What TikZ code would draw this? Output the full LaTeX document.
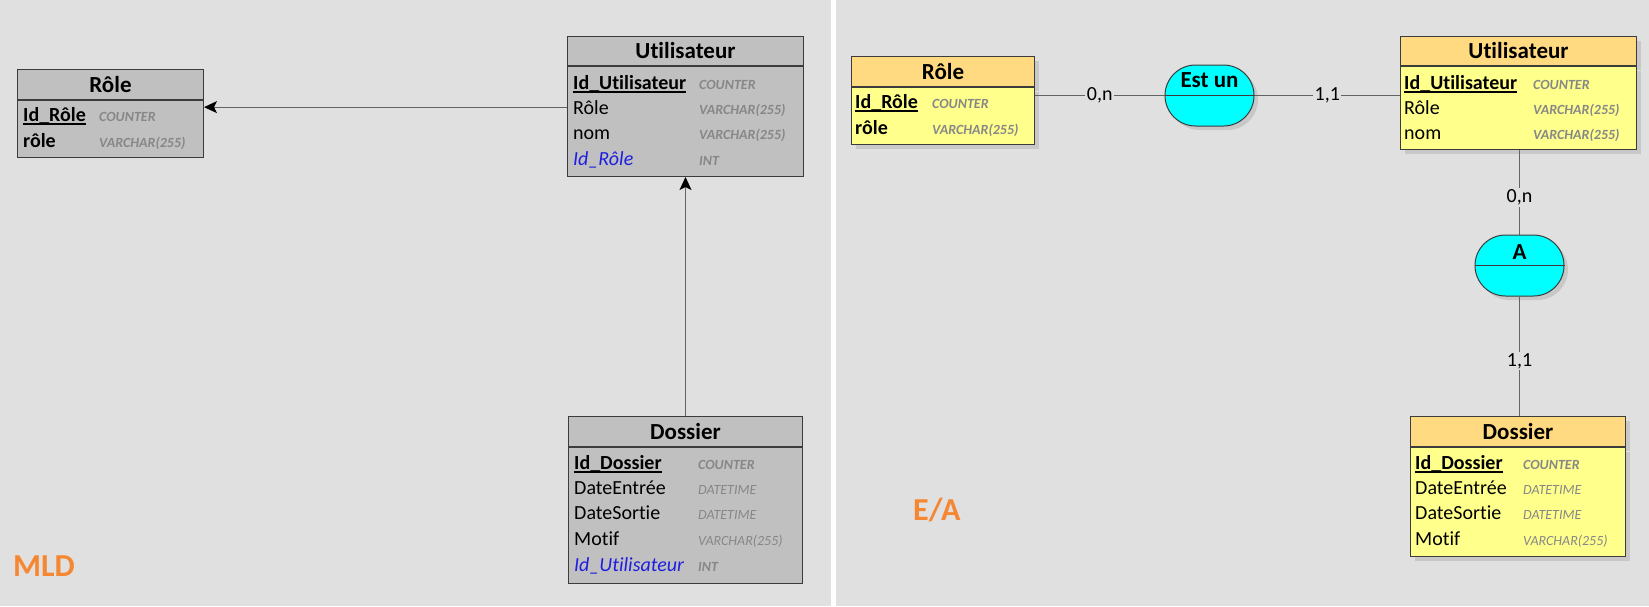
\documentclass[tikz,border=0pt]{standalone}
\usepackage{fontspec}
\setmainfont{Carlito}[Ligatures=NoCommon]
\usetikzlibrary{arrows.meta,shadows,shapes.misc}

\definecolor{fond}{RGB}{224,224,224}
\definecolor{gristab}{RGB}{192,192,192}
\definecolor{bord}{RGB}{60,60,60}
\definecolor{entete}{RGB}{255,218,128}
\definecolor{jaune}{RGB}{255,255,140}
\definecolor{turquoise}{RGB}{0,255,255}
\definecolor{typegris}{RGB}{135,135,135}
\definecolor{bleucle}{RGB}{30,30,225}
\definecolor{orangetxt}{RGB}{245,135,50}
\definecolor{gristrait}{RGB}{100,100,100}

\begin{document}
\begin{tikzpicture}[x=1pt,y=-1pt,
  haut/.style={draw=bord,line width=1pt,anchor=north west,inner sep=0pt,
    font=\fontsize{23}{28}\selectfont\bfseries},
  bas/.style={draw=bord,line width=1pt,anchor=north,inner sep=0pt},
  ombre/.style={drop shadow={shadow xshift=4pt,shadow yshift=-4pt,fill=black!30}},
  champ/.style={anchor=base west,inner sep=0pt,font=\fontsize{20}{24}\selectfont},
  cle/.style={champ,font=\fontsize{20}{24}\selectfont\bfseries},
  etrangere/.style={champ,text=bleucle,font=\fontsize{20}{24}\selectfont\itshape},
  typechamp/.style={anchor=base west,inner sep=0pt,text=typegris,
    font=\fontsize{14}{17}\selectfont\bfseries\itshape},
  typefin/.style={typechamp,font=\fontsize{14}{17}\selectfont\itshape},
  assoc/.style={rounded rectangle,draw=bord,line width=1pt,fill=turquoise,
    minimum width=89pt,minimum height=61pt,inner sep=0pt,ombre},
  fleche/.style={draw=gristrait,line width=1pt,-{Stealth[length=13pt,width=12pt,inset=3pt,black]}},
  lien/.style={draw=gristrait,line width=1pt},
  carte/.style={fill=fond,inner sep=1.5pt,font=\fontsize{20}{24}\selectfont},
  etiquette/.style={anchor=base west,inner sep=0pt,text=orangetxt,
    font=\fontsize{32}{38}\selectfont\bfseries}]

\useasboundingbox (0,0) rectangle (1649,606);
\fill[fond] (0,0) rectangle (1649,606);
\fill[white] (831,0) rectangle (836,606);

% MLD
\node[haut,fill=gristab,minimum width=186pt,minimum height=30pt] (m-role) at (17,69) {Rôle};
\node[bas,fill=gristab,minimum width=186pt,minimum height=57pt] (m-role-b) at (m-role.south) {};
\node[cle] (m-role-id) at (23,121) {Id\_Rôle};
\node[typechamp] at (99,121) {COUNTER};
\node[cle] (m-role-nom) at (23,147) {rôle};
\node[typechamp] at (99,147) {VARCHAR(255)};

\node[haut,fill=gristab,minimum width=236pt,minimum height=29pt] (m-uti) at (567,36) {Utilisateur};
\node[bas,fill=gristab,minimum width=236pt,minimum height=110pt] (m-uti-b) at (m-uti.south) {};
\node[cle] (m-uti-id) at (573,89) {Id\_Utilisateur};
\node[typechamp] at (699,89) {COUNTER};
\node[champ] (m-uti-role) at (573,114) {Rôle};
\node[typechamp] at (699,114) {VARCHAR(255)};
\node[champ] (m-uti-nom) at (573,139) {nom};
\node[typechamp] at (699,139) {VARCHAR(255)};
\node[etrangere] (m-uti-fk) at (573,165) {Id\_Rôle};
\node[typechamp] at (699,165) {INT};

\node[haut,fill=gristab,minimum width=234pt,minimum height=30pt] (m-dos) at (568,416) {Dossier};
\node[bas,fill=gristab,minimum width=234pt,minimum height=136pt] (m-dos-b) at (m-dos.south) {};
\node[cle] (m-dos-id) at (574,469) {Id\_Dossier};
\node[typechamp] at (698,469) {COUNTER};
\node[champ] (m-dos-entree) at (574,494) {DateEntrée};
\node[typefin] at (698,494) {DATETIME};
\node[champ] (m-dos-sortie) at (574,519) {DateSortie};
\node[typefin] at (698,519) {DATETIME};
\node[champ] (m-dos-motif) at (574,545) {Motif};
\node[typefin] at (698,545) {VARCHAR(255)};
\node[etrangere] (m-dos-fk) at (574,571) {Id\_Utilisateur};
\node[typechamp] at (698,571) {INT};

\draw[fleche] (m-uti-role -| m-uti-b.west) -- (m-uti-role -| m-role-b.east);
\draw[fleche] (m-dos.north) -- (m-uti-b.south);

\node[etiquette] (mld) at (13,576) {MLD};

% E/A
\node[haut,fill=entete,minimum width=183pt,minimum height=30pt,ombre] (e-role) at (851,56) {Rôle};
\node[bas,fill=jaune,minimum width=183pt,minimum height=57pt,ombre] (e-role-b) at (e-role.south) {};
\node[cle] (e-role-id) at (855,108) {Id\_Rôle};
\node[typechamp] at (932,108) {COUNTER};
\node[cle] (e-role-nom) at (855,134) {rôle};
\node[typechamp] at (932,134) {VARCHAR(255)};

\node[haut,fill=entete,minimum width=236pt,minimum height=29pt,ombre] (e-uti) at (1400,36) {Utilisateur};
\node[bas,fill=jaune,minimum width=236pt,minimum height=83pt,ombre] (e-uti-b) at (e-uti.south) {};
\node[cle] (e-uti-id) at (1404,89) {Id\_Utilisateur};
\node[typechamp] at (1533,89) {COUNTER};
\node[champ] (e-uti-role) at (1404,114) {Rôle};
\node[typechamp] at (1533,114) {VARCHAR(255)};
\node[champ] (e-uti-nom) at (1404,139) {nom};
\node[typechamp] at (1533,139) {VARCHAR(255)};

\node[haut,fill=entete,minimum width=215pt,minimum height=30pt,ombre] (e-dos) at (1410,416) {Dossier};
\node[bas,fill=jaune,minimum width=215pt,minimum height=109pt,ombre] (e-dos-b) at (e-dos.south) {};
\node[cle] (e-dos-id) at (1415,469) {Id\_Dossier};
\node[typechamp] at (1523,469) {COUNTER};
\node[champ] (e-dos-entree) at (1415,494) {DateEntrée};
\node[typefin] at (1523,494) {DATETIME};
\node[champ] (e-dos-sortie) at (1415,519) {DateSortie};
\node[typefin] at (1523,519) {DATETIME};
\node[champ] (e-dos-motif) at (1415,545) {Motif};
\node[typefin] at (1523,545) {VARCHAR(255)};

\node[assoc] (e-estun) at (1209.5,95.5) {};
\draw[bord,line width=1pt] (e-estun.west) -- (e-estun.east);
\node[font=\fontsize{23}{28}\selectfont\bfseries] (e-estun-nom) at ([yshift=15pt]e-estun.center) {Est un};

\node[assoc] (e-a) at (1519.5,265.5) {};
\draw[bord,line width=1pt] (e-a.west) -- (e-a.east);
\node[font=\fontsize{23}{28}\selectfont\bfseries] (e-a-nom) at ([yshift=13pt]e-a.center) {A};

\draw[lien] (e-estun.west) -- (e-estun.west -| e-role-b.east) node[carte,midway] {0,n};
\draw[lien] (e-estun.east) -- (e-estun.east -| e-uti-b.west) node[carte,midway] {1,1};
\draw[lien] (e-a.north) -- (e-a.north |- e-uti-b.south) node[carte,pos=0.44] {0,n};
\draw[lien] (e-a.south) -- (e-a.south |- e-dos.north) node[carte,pos=0.54] {1,1};

\node[etiquette] (ea) at (913,520) {E/A};

% cles soulignees
\foreach \k in {m-role-id,m-uti-id,m-dos-id,e-role-id,e-uti-id,e-dos-id}
  \draw[line width=1.3pt] ([yshift=-3pt]\k.base west) -- ([yshift=-3pt]\k.base east);
\end{tikzpicture}
\end{document}
